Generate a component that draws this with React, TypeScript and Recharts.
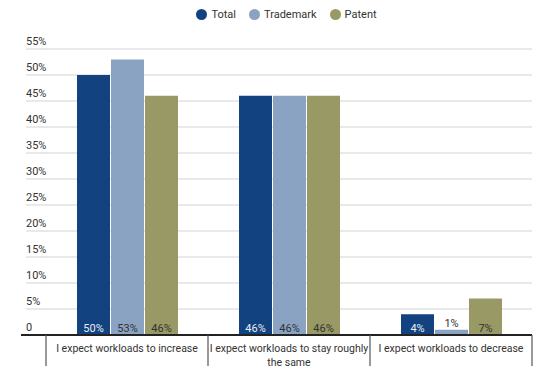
import { BarChart, Bar, XAxis, YAxis, CartesianGrid, LabelList } from "recharts";

const categories = [
  "I expect workloads to increase",
  "I expect workloads to stay roughly the same",
  "I expect workloads to decrease",
];
const total = [50, 46, 4];
const trademark = [53, 46, 1];
const patent = [46, 46, 7];
const yTicks = [0, 5, 10, 15, 20, 25, 30, 35, 40, 45, 50, 55];

const series = [
  { key: "total", name: "Total", color: "#12427f", labelColor: "#e8eef6" },
  { key: "trademark", name: "Trademark", color: "#8aa3c3", labelColor: "#333333" },
  { key: "patent", name: "Patent", color: "#989964", labelColor: "#333333" },
];

const data = categories.map((label, i) => ({
  label,
  total: total[i],
  trademark: trademark[i],
  patent: patent[i],
}));

const FONT = "Roboto, sans-serif";
const GRID_LEFT = 26;
const GRID_RIGHT = 532;

// greedy word wrap using canvas text metrics
const ctx = typeof document !== "undefined" ? document.createElement("canvas").getContext("2d") : null;
function wrap(str: string, maxW: number, font: string) {
  if (!ctx) return [str];
  ctx.font = font;
  const words = str.split(" ");
  const lines: string[] = [];
  let cur = "";
  for (const w of words) {
    const t = cur ? cur + " " + w : w;
    if (cur && ctx.measureText(t).width > maxW) {
      lines.push(cur);
      cur = w;
    } else {
      cur = t;
    }
  }
  if (cur) lines.push(cur);
  return lines;
}

// y ticks: label sits above the gridline, gridline stub reaches left past the plot
const YTick = (props: any) => {
  const { x, y, payload } = props;
  const v = payload.value;
  return (
    <g>
      {v !== 0 && (
        <line x1={GRID_LEFT} x2={x + 1} y1={y} y2={y} stroke="#e2e2e2" strokeWidth={1.5} />
      )}
      <text x={GRID_LEFT} y={y - 4} fill="#333" fontSize={11} fontFamily={FONT}>
        {v === 0 ? "0" : `${v}%`}
      </text>
    </g>
  );
};

const XTick = (props: any) => {
  const { x, y, payload, index, width } = props;
  const bw = width / categories.length;
  const left = x - bw / 2;
  const lines = wrap(String(payload.value), bw, "10.5px Roboto");
  return (
    <g>
      {index === 0 && (
        <line x1={21} x2={GRID_RIGHT} y1={y} y2={y} stroke="#222" strokeWidth={2} />
      )}
      <line x1={left} x2={left} y1={y} y2={y + 31} stroke="#555" strokeWidth={1.2} />
      {index === categories.length - 1 && (
        <line x1={left + bw} x2={left + bw} y1={y} y2={y + 31} stroke="#555" strokeWidth={1.2} />
      )}
      <text x={x} y={y + 17} textAnchor="middle" fill="#333" fontSize={10.5} fontFamily={FONT}>
        {lines.map((l, i) => (
          <tspan key={i} x={x} dy={i === 0 ? 0 : 14}>
            {l}
          </tspan>
        ))}
      </text>
    </g>
  );
};

const makeLabel = (color: string) => (props: any) => {
  const { x, y, width, height, value } = props;
  const cx = x + width / 2;
  const small = height < 14;
  return (
    <text
      x={cx}
      y={small ? y - 3 : y + height - 3}
      textAnchor="middle"
      fill={small ? "#333" : color}
      fontSize={11}
      fontFamily={FONT}
    >
      {`${value}%`}
    </text>
  );
};

export default function App() {
  return (
    <div style={{ position: "absolute", left: 0, top: 0, width: 557, height: 375, background: "#fff" }}>
      <div
        style={{
          position: "absolute",
          top: 8,
          left: 8,
          width: 557,
          display: "flex",
          justifyContent: "center",
          gap: 13,
          fontFamily: FONT,
          fontSize: 11,
          color: "#333",
          zIndex: 1,
        }}
      >
        {series.map((s) => (
          <div key={s.key} style={{ display: "flex", alignItems: "center", gap: 4 }}>
            <span
              style={{
                width: 11,
                height: 11,
                borderRadius: "50%",
                background: s.color,
                display: "inline-block",
              }}
            />
            {s.name}
          </div>
        ))}
      </div>
      <BarChart
        width={557}
        height={375}
        data={data}
        margin={{ top: 49, right: 25, bottom: 0, left: 26 }}
        barCategoryGap={31}
        barGap={1}
      >
        <CartesianGrid horizontal vertical={false} stroke="#e2e2e2" strokeWidth={1.5} />
        <XAxis
          dataKey="label"
          axisLine={false}
          tickLine={false}
          tickSize={0}
          tickMargin={0}
          interval={0}
          tick={XTick}
          height={40}
        />
        <YAxis
          domain={[0, 55]}
          ticks={yTicks}
          width={20}
          axisLine={false}
          tickLine={false}
          tickSize={0}
          tickMargin={0}
          tick={YTick}
          interval={0}
        />
        {series.map((s) => (
          <Bar key={s.key} dataKey={s.key} name={s.name} fill={s.color} isAnimationActive={false}>
            <LabelList dataKey={s.key} content={makeLabel(s.labelColor)} />
          </Bar>
        ))}
      </BarChart>
    </div>
  );
}
